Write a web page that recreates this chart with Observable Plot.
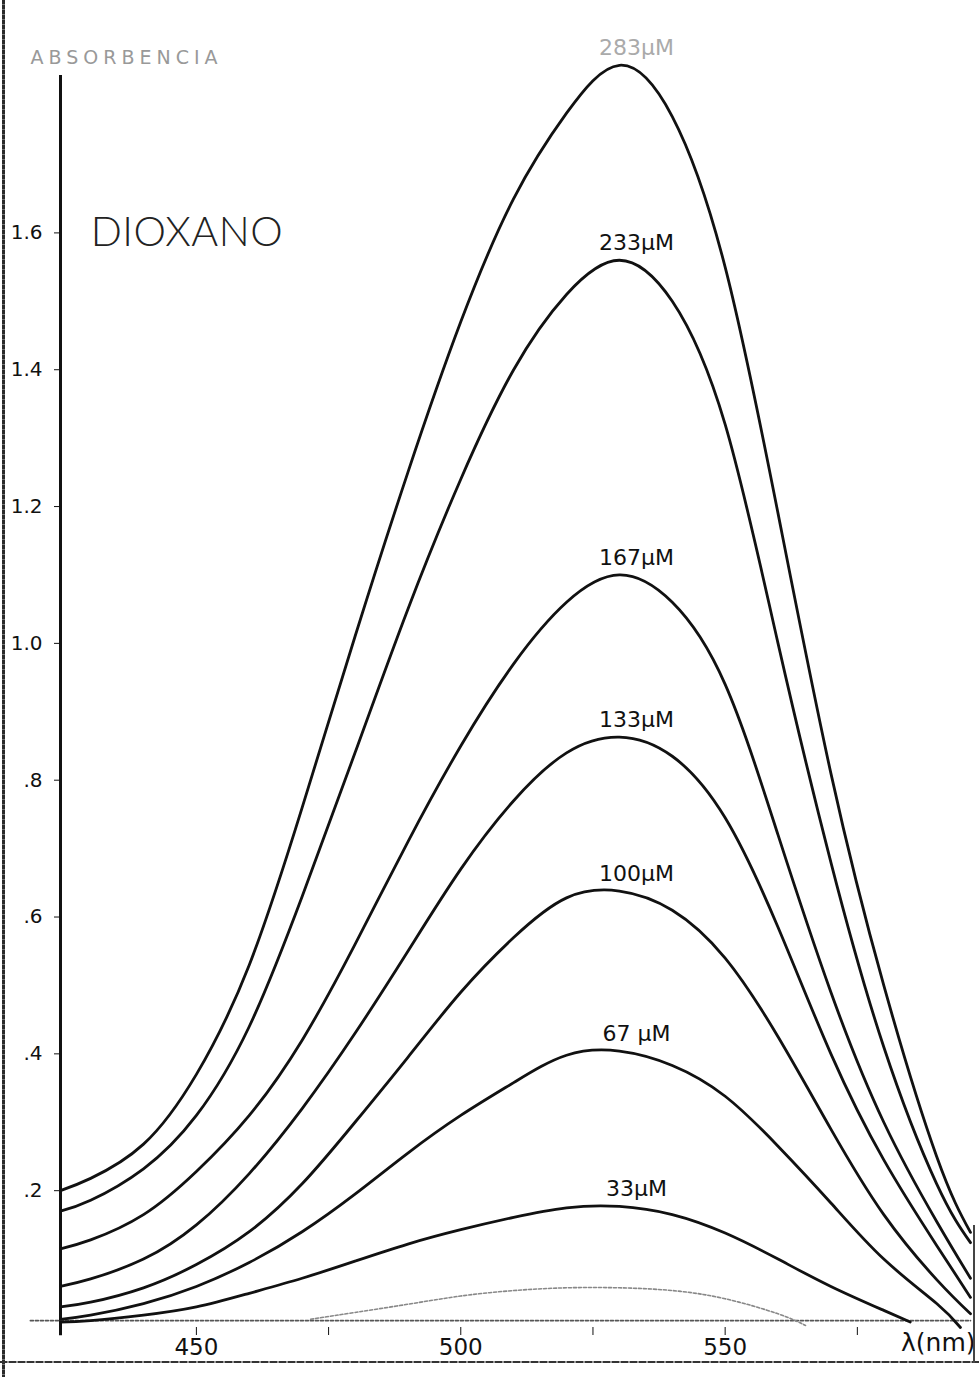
<!DOCTYPE html>
<html><head><meta charset="utf-8">
<script src="https://cdn.jsdelivr.net/npm/d3@7"></script>
<script src="https://cdn.jsdelivr.net/npm/@observablehq/plot@0.6"></script>
<style>
body{margin:0;background:#fff;}
#wrap{position:relative;width:979px;height:1377px;overflow:hidden;background:#fff;}
#wrap svg{position:absolute;left:0;top:0;}
.bl{position:absolute;left:2px;top:0;width:3px;height:1377px;background:repeating-linear-gradient(#2a2a2a 0 4px,#777 4px 5px);}
.bb{position:absolute;left:0;top:1361px;width:979px;height:2px;background:repeating-linear-gradient(90deg,#333 0 7px,#999 7px 9px);}
.br{position:absolute;left:973px;top:1225px;width:2px;height:138px;background:#444;}
</style></head><body><div id="wrap"></div>
<script>
// wavelength grid (nm) shared by the five upper spectra
const wavelengths = [424.3, 430, 440, 450, 460, 470, 480, 490, 500, 510, 520, 530, 540, 550, 560, 570, 580, 590, 596.4];
const seriesNames = ["283μM", "233μM", "167μM", "133μM", "100μM"];
const absTop  = [0.200, 0.218, 0.268, 0.37, 0.53, 0.76, 1.01, 1.25, 1.47, 1.65, 1.775, 1.845, 1.77, 1.55, 1.19, 0.81, 0.50, 0.25, 0.139];
const abs233  = [0.170, 0.186, 0.232, 0.31, 0.44, 0.63, 0.84, 1.05, 1.24, 1.40, 1.51, 1.56, 1.50, 1.32, 1.00, 0.68, 0.41, 0.21, 0.124];
const abs167  = [0.115, 0.128, 0.165, 0.228, 0.31, 0.42, 0.56, 0.71, 0.85, 0.97, 1.06, 1.10, 1.06, 0.94, 0.72, 0.49, 0.30, 0.155, 0.072];
const abs133  = [0.060, 0.071, 0.100, 0.150, 0.225, 0.32, 0.43, 0.55, 0.67, 0.77, 0.84, 0.863, 0.835, 0.745, 0.585, 0.40, 0.245, 0.12, 0.044];
const abs100  = [0.030, 0.037, 0.058, 0.092, 0.14, 0.21, 0.30, 0.395, 0.49, 0.57, 0.628, 0.638, 0.61, 0.54, 0.425, 0.29, 0.165, 0.07, 0.02];
// 67 µM
const nm67  = [424.3, 430, 440, 450, 460, 470, 480, 490, 500, 510, 520, 530, 540, 550, 560, 570, 580, 590, 594.5];
const abs67 = [0.012, 0.018, 0.035, 0.06, 0.095, 0.14, 0.195, 0.255, 0.31, 0.358, 0.398, 0.404, 0.383, 0.338, 0.265, 0.182, 0.10, 0.035, 0.0];
// 33 µM
const nm33  = [424.3, 430, 440, 450, 460, 470, 480, 490, 500, 510, 520, 530, 540, 550, 560, 570, 580, 585];
const abs33 = [0.008, 0.010, 0.018, 0.03, 0.05, 0.072, 0.097, 0.122, 0.143, 0.161, 0.175, 0.177, 0.165, 0.138, 0.10, 0.06, 0.025, 0.008];
// faint lowest trace (unlabelled)
const nmFaint  = [471.6, 480, 490, 500, 510, 520, 530, 540, 550, 560, 565.2];
const absFaint = [0.012, 0.022, 0.034, 0.046, 0.054, 0.058, 0.058, 0.054, 0.042, 0.02, 0.003];
// solvent baseline
const nmBase  = [418.6, 596.4];
const absBase = [0.01, 0.01];

const xDomain = [424.3, 596.4];
const yDomain = [0, 1.852];
const xTicks = [450, 475, 500, 525, 550, 575];
const xTickLabels = ["450", "", "500", "", "550", ""];
const yTicks = [0.2, 0.4, 0.6, 0.8, 1.0, 1.2, 1.4, 1.6];
const yTickLabels = [".2", ".4", ".6", ".8", "1.0", "1.2", "1.4", "1.6"];

const rows = [];
[absTop, abs233, abs167, abs133, abs100].forEach((arr, i) => {
  arr.forEach((a, j) => rows.push({series: seriesNames[i], nm: wavelengths[j], A: a}));
});
nm67.forEach((n, j) => rows.push({series: "67 μM", nm: n, A: abs67[j]}));
nm33.forEach((n, j) => rows.push({series: "33μM", nm: n, A: abs33[j]}));
const faintRows = nmFaint.map((n, j) => ({nm: n, A: absFaint[j]}));
const baseRows = nmBase.map((n, j) => ({nm: n, A: absBase[j]}));

const peaks = d3.groups(rows, d => d.series).map(([s, v]) => {
  const p = d3.greatest(v, d => d.A);
  return {series: s, nm: p.nm, A: p.A};
});

const chart = Plot.plot({
  width: 979, height: 1377,
  marginLeft: 60, marginRight: 9, marginTop: 60, marginBottom: 50,
  style: {background: "white", color: "#111", fontFamily: "DejaVu Sans"},
  x: {domain: xDomain},
  y: {domain: yDomain},
  marks: [
    Plot.ruleX([xDomain[0]], {y1: -0.012, y2: 1.83, stroke: "#111", strokeWidth: 3}),
    Plot.axisY(yTicks, {tickSize: 6, tickPadding: 12, fontSize: 20,
      tickFormat: d => yTickLabels[yTicks.indexOf(d)], label: null}),
    Plot.axisX(xTicks, {tickSize: 8, tickPadding: 3, fontSize: 23,
      tickFormat: d => xTickLabels[xTicks.indexOf(d)], label: null}),
    Plot.line(baseRows, {x: "nm", y: "A", stroke: "#555", strokeWidth: 1.6, strokeDasharray: "3,2"}),
    Plot.line(faintRows, {x: "nm", y: "A", stroke: "#888", strokeWidth: 1.6, strokeDasharray: "3,2", curve: "natural"}),
    Plot.line(rows, {x: "nm", y: "A", z: "series", stroke: "#111", strokeWidth: 2.8, curve: "natural"}),
    Plot.text(peaks, {x: "nm", y: "A", text: "series", dx: 17, dy: -17, fontSize: 22,
      fill: d => d.series === seriesNames[0] ? "#aaa" : "#111"}),
    Plot.text(["DIOXANO"], {x: 430, y: 1.6, text: d => d, textAnchor: "start", fontSize: 41,
      fontFamily: "Lato", fontWeight: 300, fill: "#222"}),
    Plot.text(["ABSORBENCIA"], {frameAnchor: "top-left", text: d => d, dx: -30, dy: -10,
      textAnchor: "start", fontSize: 19, fill: "#999"}),
    Plot.text(["λ(nm)"], {frameAnchor: "bottom-right", text: d => d, dx: 5, dy: 23,
      textAnchor: "end", fontSize: 25, fill: "#111"})
  ]
});
const wrap = document.getElementById("wrap");
wrap.appendChild(chart);
d3.select(chart).selectAll("text").filter(function() { return this.textContent === "DIOXANO"; }).style("letter-spacing", "0.5px");
d3.select(chart).selectAll("text").filter(function() { return this.textContent === "ABSORBENCIA"; }).style("letter-spacing", "5px");
["bl", "bb", "br"].forEach(c => { const e = document.createElement("div"); e.className = c; wrap.appendChild(e); });
</script></body></html>
